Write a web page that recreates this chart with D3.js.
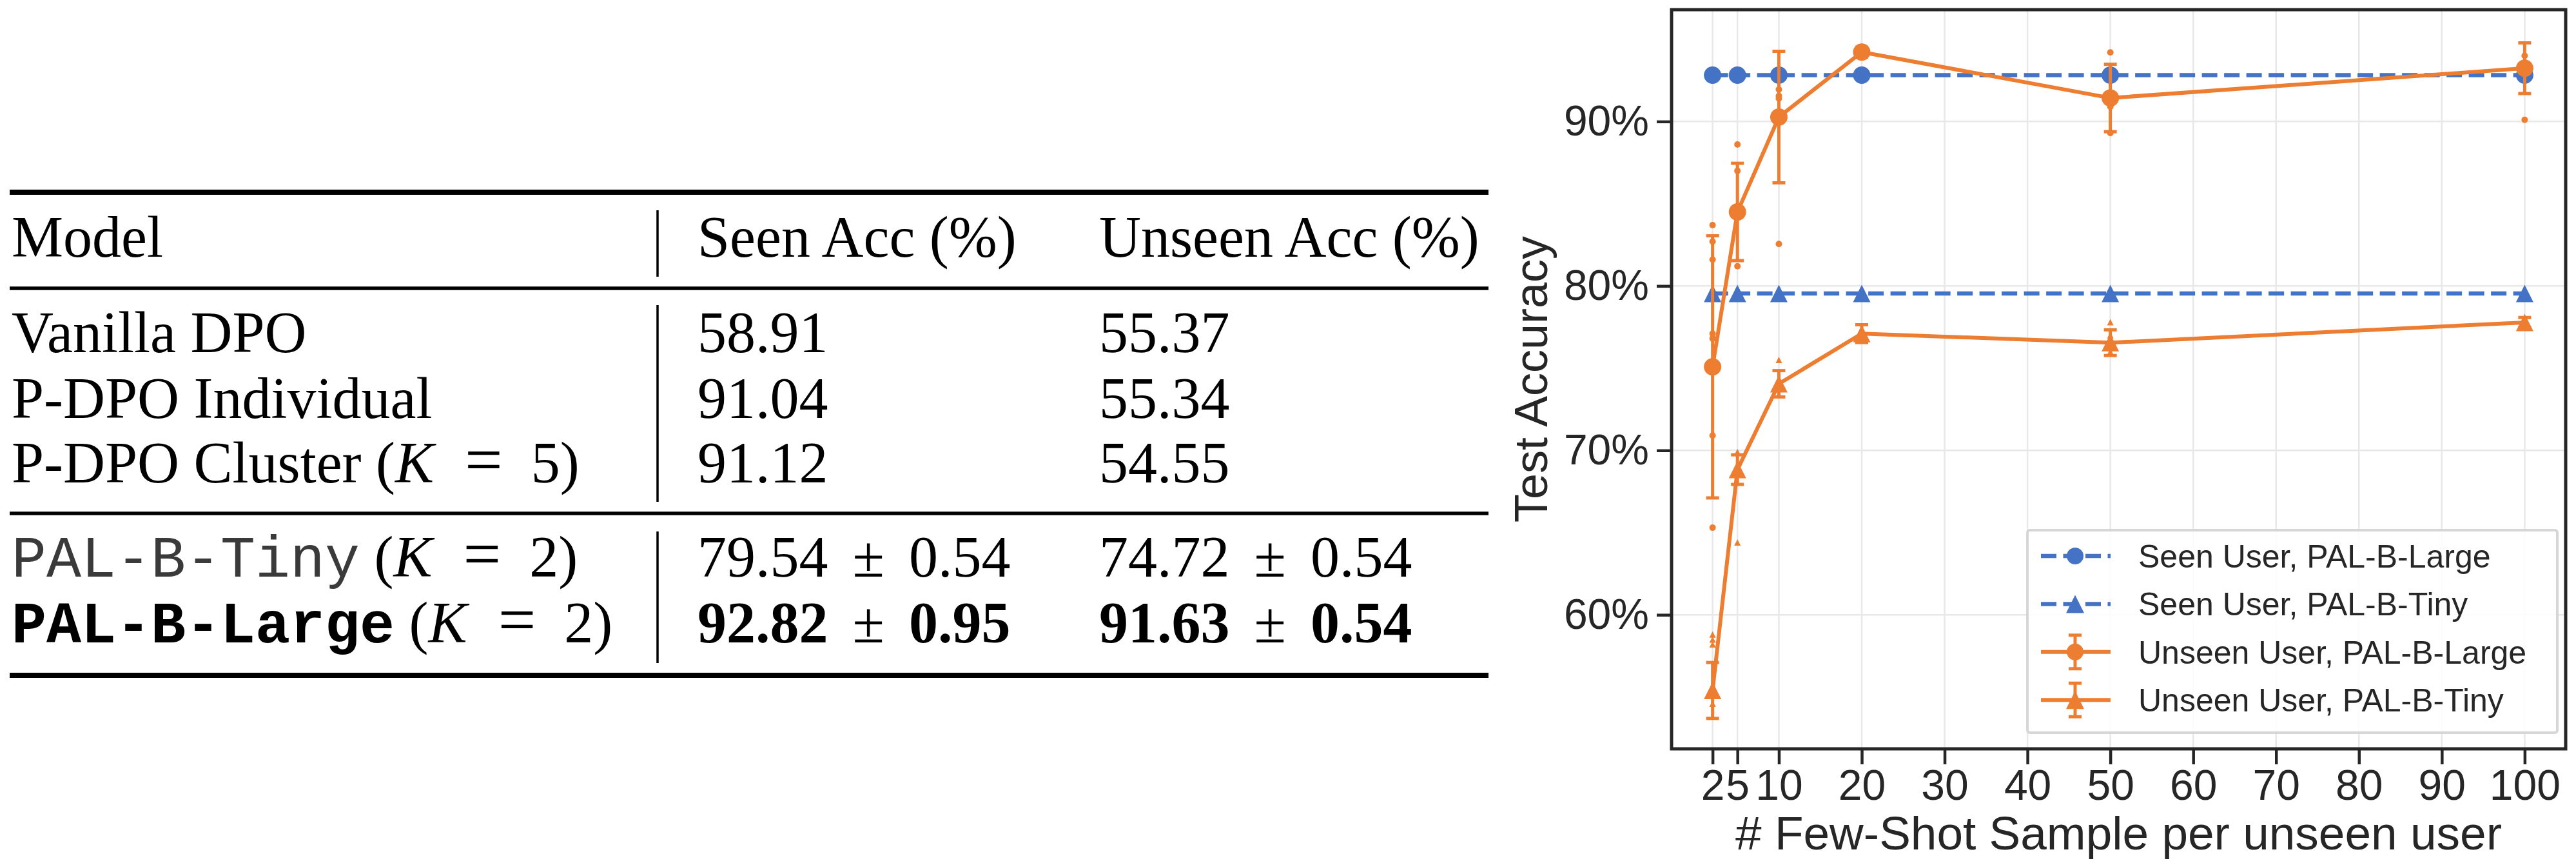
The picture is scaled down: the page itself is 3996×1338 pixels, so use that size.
<!DOCTYPE html>
<html>
<head>
<meta charset="utf-8">
<script src="https://cdn.jsdelivr.net/npm/d3@7"></script>
<style>
  html, body { margin: 0; padding: 0; background: #fff; }
  svg { display: block; }
</style>
</head>
<body>
<script>
// table values
const tableHeader = ["Model", "Seen Acc (%)", "Unseen Acc (%)"];
const modelNames = ["Vanilla DPO", "P-DPO Individual", "P-DPO Cluster", "PAL-B-Tiny", "PAL-B-Large"];
const modelK = [null, null, 5, 2, 2];
const seenAcc = ["58.91", "91.04", "91.12", "79.54", "92.82"];
const seenStd = [null, null, null, "0.54", "0.95"];
const unseenAcc = ["55.37", "55.34", "54.55", "74.72", "91.63"];
const unseenStd = [null, null, null, "0.54", "0.54"];

// chart values
const shots = [2, 5, 10, 20, 50, 100];
const seenLarge = [92.82, 92.82, 92.82, 92.82, 92.82, 92.82];
const seenTiny = [79.54, 79.54, 79.54, 79.54, 79.54, 79.54];
const unseenLargeMean = [75.08, 84.5, 90.27, 94.22, 91.43, 93.24];
const unseenLargeErr = [7.97, 2.96, 4.0, 0.3, 2.05, 1.54];
const unseenTinyMean = [55.4, 68.83, 74.05, 77.1, 76.55, 77.78];
const unseenTinyErr = [1.7, 0.9, 0.8, 0.54, 0.78, 0.3];
// single runs drawn as small points
const unseenLargeRuns = [
  [83.7, 82.7, 81.6, 77.1, 76.8, 70.9, 65.3],
  [88.6, 87.0, 81.2],
  [91.95, 91.55, 91.4, 82.55],
  [],
  [94.2, 90.9, 89.3],
  [94.0, 90.1]
];
const unseenTinyRuns = [
  [58.8, 58.5, 58.2, 54.6],
  [69.9, 64.4],
  [75.5],
  [],
  [77.8, 77.0, 76.0],
  []
];
const xTicks = [2, 5, 10, 20, 30, 40, 50, 60, 70, 80, 90, 100];
const yTicks = [60, 70, 80, 90];
const legendLabels = ["Seen User, PAL-B-Large", "Seen User, PAL-B-Tiny", "Unseen User, PAL-B-Large", "Unseen User, PAL-B-Tiny"];

const W = 3996, H = 1338;
const serif = "'Liberation Serif', 'Times New Roman', serif";
const mono = "'Liberation Mono', 'DejaVu Sans Mono', monospace";
const sans = "'Liberation Sans', Arial, sans-serif";
const ink = "#262626";
const blue = "#4472C4";
const orange = "#ED7D31";

const svg = d3.select("body").append("svg")
    .attr("width", W)
    .attr("height", H);
svg.append("rect").attr("width", W).attr("height", H).attr("fill", "#fff");

// ---------- table ----------
const table = svg.append("g").attr("class", "table");
const colX = [18, 1082, 1705];
const headerY = 398;
const rowY = [546, 648, 748, 894, 996];
const tblFont = 90;

// horizontal rules
[[298, 8], [447, 5.5], [796, 5.5], [1047, 8]].forEach(([yy, w]) => {
    table.append("line")
        .attr("x1", 15).attr("x2", 2309)
        .attr("y1", yy).attr("y2", yy)
        .attr("stroke", "#000").attr("stroke-width", w);
});
// vertical separator
[[326, 429], [473, 778], [824, 1028]].forEach(([a, b]) => {
    table.append("line")
        .attr("x1", 1020).attr("x2", 1020)
        .attr("y1", a).attr("y2", b)
        .attr("stroke", "#000").attr("stroke-width", 3.5);
});

table.selectAll("text.head")
    .data(tableHeader)
    .join("text")
    .attr("class", "head")
    .attr("x", (d, i) => colX[i])
    .attr("y", headerY)
    .style("font", `${tblFont}px ${serif}`)
    .text(d => d);

modelNames.forEach((name, i) => {
    const bold = i === 4;
    const t = table.append("text")
        .attr("x", colX[0]).attr("y", rowY[i])
        .style("font-family", serif)
        .style("font-size", tblFont + "px");
    t.append("tspan")
        .style("font-family", i >= 3 ? mono : serif)
        .style("font-weight", bold ? "bold" : "normal")
        .attr("fill", i === 3 ? "#3a3a3a" : "#000")
        .text(name);
    if (modelK[i] !== null) {
        // math-style spacing around "="
        t.append("tspan").text(" (");
        t.append("tspan").style("font-style", "italic").text("K");
        t.append("tspan").attr("dx", 48).style("font-size", "104px").text("=");
        t.append("tspan").attr("dx", 44).text(modelK[i]);
        t.append("tspan").text(")");
    }

    [[seenAcc, seenStd], [unseenAcc, unseenStd]].forEach(([acc, std], c) => {
        const n = table.append("text")
            .attr("x", colX[c + 1]).attr("y", rowY[i])
            .style("font-family", serif)
            .style("font-size", tblFont + "px")
            .style("font-weight", bold ? "bold" : "normal");
        n.append("tspan").text(acc[i]);
        if (std[i] !== null) {
            n.append("tspan").attr("dx", 38).style("font-weight", "normal").text("±");
            n.append("tspan").attr("dx", 38).text(std[i]);
        }
    });
});

// ---------- chart ----------
const plot = { left: 2593, right: 3980, top: 15, bottom: 1161 };
const x = d3.scaleLinear().domain([-2.95, 104.95]).range([plot.left, plot.right]);
const y = d3.scaleLinear().domain([51.85, 96.8]).range([plot.bottom, plot.top]);

const chart = svg.append("g").attr("class", "chart");

// grid
chart.append("g").selectAll("line")
    .data(xTicks).join("line")
    .attr("x1", d => x(d)).attr("x2", d => x(d))
    .attr("y1", plot.top).attr("y2", plot.bottom)
    .attr("stroke", "#e8e8e8").attr("stroke-width", 2.5);
chart.append("g").selectAll("line")
    .data(yTicks).join("line")
    .attr("x1", plot.left).attr("x2", plot.right)
    .attr("y1", d => y(d)).attr("y2", d => y(d))
    .attr("stroke", "#e8e8e8").attr("stroke-width", 2.5);

const line = d3.line()
    .x((d, i) => x(shots[i]))
    .y(d => y(d));

function tri(cx, cy, s) {
    return `M${cx},${cy - s / 2}L${cx + s / 2},${cy + s / 2}L${cx - s / 2},${cy + s / 2}Z`;
}

function drawMarkers(g, vals, shape, color, size) {
    if (shape === "circle") {
        g.selectAll("circle.m").data(vals).join("circle")
            .attr("class", "m")
            .attr("cx", (d, i) => x(shots[i]))
            .attr("cy", d => y(d))
            .attr("r", size / 2)
            .attr("fill", color);
    } else {
        g.selectAll("path.m").data(vals).join("path")
            .attr("class", "m")
            .attr("d", (d, i) => tri(x(shots[i]), y(d), size))
            .attr("fill", color);
    }
}

// seen users: dashed blue
[[seenLarge, "circle"], [seenTiny, "triangle"]].forEach(([vals, shape]) => {
    const g = chart.append("g");
    g.append("path")
        .attr("d", line(vals))
        .attr("fill", "none")
        .attr("stroke", blue)
        .attr("stroke-width", 6.5)
        .attr("stroke-dasharray", "24,10.5");
    drawMarkers(g, vals, shape, blue, 27);
});

// unseen users: solid orange + error bars + single runs
[[unseenLargeMean, unseenLargeErr, unseenLargeRuns, "circle"],
 [unseenTinyMean, unseenTinyErr, unseenTinyRuns, "triangle"]].forEach(([vals, err, runs, shape]) => {
    const g = chart.append("g");
    g.append("path")
        .attr("d", line(vals))
        .attr("fill", "none")
        .attr("stroke", orange)
        .attr("stroke-width", 6)
        .attr("stroke-linejoin", "round");

    const eb = g.append("g").attr("stroke", orange).attr("stroke-width", 5);
    vals.forEach((v, i) => {
        const cx = x(shots[i]);
        eb.append("line")
            .attr("x1", cx).attr("x2", cx)
            .attr("y1", y(v - err[i])).attr("y2", y(v + err[i]));
        [v - err[i], v + err[i]].forEach(e => {
            eb.append("line")
                .attr("x1", cx - 10).attr("x2", cx + 10)
                .attr("y1", y(e)).attr("y2", y(e));
        });
    });

    drawMarkers(g, vals, shape, orange, 27);

    runs.forEach((pts, i) => {
        pts.forEach(p => {
            if (shape === "circle") {
                g.append("circle")
                    .attr("cx", x(shots[i])).attr("cy", y(p))
                    .attr("r", 5).attr("fill", orange);
            } else {
                g.append("path")
                    .attr("d", tri(x(shots[i]), y(p), 10))
                    .attr("fill", orange);
            }
        });
    });
});

// frame
chart.append("rect")
    .attr("x", plot.left).attr("y", plot.top)
    .attr("width", plot.right - plot.left)
    .attr("height", plot.bottom - plot.top)
    .attr("fill", "none")
    .attr("stroke", ink)
    .attr("stroke-width", 5);

// axes
const xAxis = chart.append("g")
    .attr("transform", `translate(0,${plot.bottom})`)
    .call(d3.axisBottom(x).tickValues(xTicks).tickSize(24).tickPadding(8).tickFormat(d3.format("d")));
const yAxis = chart.append("g")
    .attr("transform", `translate(${plot.left},0)`)
    .call(d3.axisLeft(y).tickValues(yTicks).tickSize(23).tickPadding(12).tickFormat(d => d + "%"));
[xAxis, yAxis].forEach(a => {
    a.select(".domain").remove();
    a.selectAll(".tick line").attr("stroke", ink).attr("stroke-width", 4.5);
    a.selectAll(".tick text").attr("fill", ink).style("font", `66px ${sans}`);
});

chart.append("text")
    .attr("x", (plot.left + plot.right) / 2)
    .attr("y", 1317)
    .attr("text-anchor", "middle")
    .attr("fill", ink)
    .style("font", `73px ${sans}`)
    .text("# Few-Shot Sample per unseen user");

chart.append("text")
    .attr("transform", `translate(2400,${(plot.top + plot.bottom) / 2}) rotate(-90)`)
    .attr("text-anchor", "middle")
    .attr("fill", ink)
    .style("font", `72px ${sans}`)
    .text("Test Accuracy");

// legend
const lg = chart.append("g").attr("class", "legend");
const legendX = 3145, legendY = 822, legendW = 822, legendH = 314;
lg.append("rect")
    .attr("x", legendX).attr("y", legendY)
    .attr("width", legendW).attr("height", legendH)
    .attr("rx", 4)
    .attr("fill", "rgba(255,255,255,0.85)")
    .attr("stroke", "#d6d6d6")
    .attr("stroke-width", 4);

legendLabels.forEach((lab, i) => {
    const cy = legendY + 40 + i * 74.4;
    const hx0 = legendX + 21, hx1 = legendX + 129, mx = legendX + 74;
    const color = i < 2 ? blue : orange;
    const row = lg.append("g");
    row.append("line")
        .attr("x1", hx0).attr("x2", hx1)
        .attr("y1", cy).attr("y2", cy)
        .attr("stroke", color)
        .attr("stroke-width", i < 2 ? 6.5 : 6)
        .attr("stroke-dasharray", i < 2 ? "24,10.5" : null);
    if (i >= 2) {
        row.append("line").attr("x1", mx).attr("x2", mx)
            .attr("y1", cy - 26).attr("y2", cy + 26)
            .attr("stroke", orange).attr("stroke-width", 5);
        [cy - 26, cy + 26].forEach(e => {
            row.append("line").attr("x1", mx - 10).attr("x2", mx + 10)
                .attr("y1", e).attr("y2", e)
                .attr("stroke", orange).attr("stroke-width", 5);
        });
    }
    if (i % 2 === 0) {
        row.append("circle").attr("cx", mx).attr("cy", cy).attr("r", 13).attr("fill", color);
    } else {
        row.append("path").attr("d", tri(mx, cy, 28)).attr("fill", color);
    }
    row.append("text")
        .attr("x", legendX + 172)
        .attr("y", cy + 18)
        .attr("fill", ink)
        .style("font", `50px ${sans}`)
        .text(lab);
});
</script>
</body>
</html>
